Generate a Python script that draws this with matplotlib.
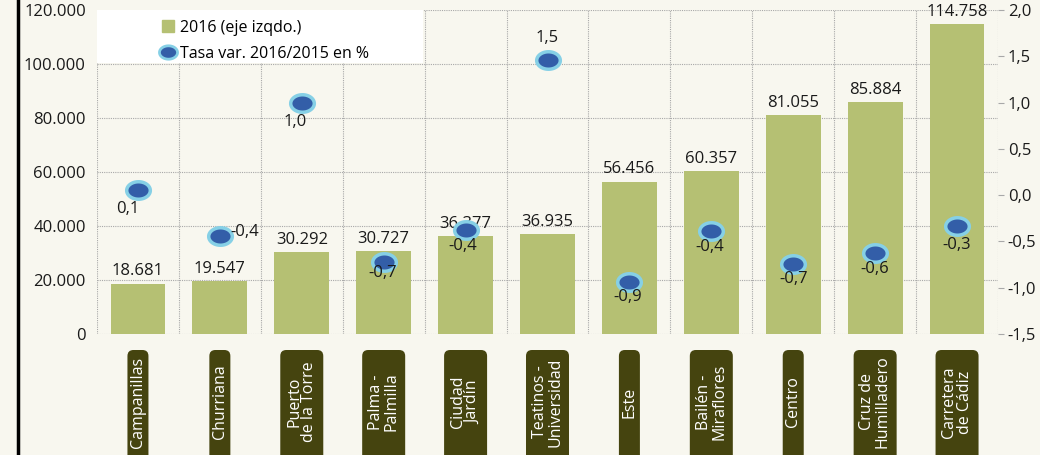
import matplotlib
matplotlib.use("Agg")
import matplotlib.pyplot as plt
from matplotlib.path import Path
from matplotlib.patches import FancyBboxPatch, Rectangle
from matplotlib.lines import Line2D
from matplotlib.ticker import FuncFormatter, FixedLocator
import matplotlib.transforms as mtransforms
import numpy as np

categories = ["Campanillas", "Churriana", "Puerto\nde la Torre", "Palma -\nPalmilla",
              "Ciudad\nJardín", "Teatinos -\nUniversidad", "Este", "Bailén -\nMiraflores",
              "Centro", "Cruz de\nHumilladero", "Carretera\nde Cádiz"]
poblacion_2016 = [18681, 19547, 30292, 30727, 36377, 36935, 56456, 60357, 81055, 85884, 114758]
tasa_var = [0.06, -0.44, 1.0, -0.72, -0.38, 1.46, -0.94, -0.39, -0.74, -0.62, -0.33]
left_ticks = [0, 20000, 40000, 60000, 80000, 100000, 120000]
right_ticks = [-1.5, -1.0, -0.5, 0.0, 0.5, 1.0, 1.5, 2.0]
legend_labels = ["2016 (eje izqdo.)", "Tasa var. 2016/2015 en %"]

# label offsets for the rate labels (points)
rate_offsets = [(-7, -14), (18, 3), (-5, -14), (-1, -8), (-2, -11), (0, 16),
                (-1, -11), (-1, -11), (0, -11), (0, -12), (0, -14)]

BG = "#f8f7ef"
BAR = "#b5c073"
DOT = "#335ea8"
DOT_EDGE = "#86d0e6"
BOX = "#45440f"
GRID = "#a8a8a8"
FONT = ["Open Sans", "DejaVu Sans"]

plt.rcParams['font.family'] = FONT

fig = plt.figure(figsize=(10.4, 4.55), dpi=100, facecolor=BG)
ax = fig.add_axes([97/1040, 121/455, 901/1040, 324/455])
ax.set_facecolor(BG)
ax2 = ax.twinx()

x = np.arange(len(categories))
ax.set_xlim(-0.5, len(categories) - 0.5)
ax.set_ylim(0, 120000)
ax2.set_ylim(-1.5, 2.0)

# grid
ax.set_yticks(left_ticks)
ax.xaxis.set_major_locator(FixedLocator(np.arange(-0.5, len(categories), 1.0)))
ax.set_xticklabels([])
ax.tick_params(axis='x', length=0)
ax.tick_params(axis='y', length=0, labelsize=12, colors="#1a1a1a", pad=8)
ax.grid(True, color=GRID, linestyle=(0, (1, 1)), linewidth=0.8)
ax.set_axisbelow(True)
for sp in ax.spines.values():
    sp.set_visible(False)
for sp in ax2.spines.values():
    sp.set_visible(False)
ax.yaxis.set_major_formatter(FuncFormatter(lambda v, p: f"{int(v):,}".replace(",", ".")))

ax2.set_yticks(right_ticks)
ax2.yaxis.set_major_formatter(FuncFormatter(lambda v, p: f"{v:.1f}".replace(".", ",")))
ax2.tick_params(axis='y', length=4, width=0.8, color=GRID, labelsize=12, labelcolor="#1a1a1a", pad=3)

# legend background
ax.add_patch(Rectangle((0, 1 - 53/324), 326/901, 53/324, transform=ax.transAxes,
                       facecolor="white", edgecolor="none", zorder=1.5))

bars = ax.bar(x, poblacion_2016, width=0.67, color=BAR, zorder=2, label=legend_labels[0])
for xi, v in zip(x, poblacion_2016):
    ax.annotate(f"{v:,}".replace(",", "."), (xi, v), xytext=(0, 3), textcoords="offset points",
                ha="center", va="bottom", fontsize=12, color="#1a1a1a", zorder=3)

# ellipse marker
t = np.linspace(0, 2*np.pi, 60)
ell = Path(np.column_stack([1.35*np.cos(t), np.sin(t)]), closed=True)

ax2.plot(x, tasa_var, linestyle="none", marker=ell, markersize=17,
         markerfacecolor=DOT, markeredgecolor=DOT_EDGE, markeredgewidth=2.5, zorder=5,
         label=legend_labels[1])
for xi, v, off in zip(x, tasa_var, rate_offsets):
    ax2.annotate(f"{v:.1f}".replace(".", ","), (xi, v), xytext=off, textcoords="offset points",
                 ha="center", va="center", fontsize=12, color="#1a1a1a", zorder=6)

# legend
h1 = Line2D([], [], linestyle="none", marker="s", markersize=8, color=BAR)
h2 = Line2D([], [], linestyle="none", marker=ell, markersize=13,
            markerfacecolor=DOT, markeredgecolor=DOT_EDGE, markeredgewidth=2)
leg = ax2.legend([h1, h2], legend_labels, loc="upper left",
                 bbox_to_anchor=((160-97)/901, (334-20)/324), frameon=False,
                 fontsize=11.5, borderpad=0, handlelength=1.0, handletextpad=0.25,
                 labelspacing=0.62, borderaxespad=0)
leg.set_zorder(10)

# category label boxes
trans = mtransforms.blended_transform_factory(ax.transData, fig.transFigure)
unit_px = 901 / 11
px_w = 1.0 / unit_px
for xi, cat in zip(x, categories):
    n = cat.count("\n") + 1
    wpx = 22*n - 1
    w = wpx * px_w
    y_top = (455 - 350) / 455
    y_bot = -30 / 455
    box = FancyBboxPatch((xi - w/2, y_bot), w, y_top - y_bot,
                         boxstyle=f"round,pad=0,rounding_size={6*px_w}",
                         transform=trans, facecolor=BOX, edgecolor="none", clip_on=False,
                         mutation_aspect=unit_px/455)
    fig.add_artist(box)
    fig.text(xi, (455 - 402) / 455, cat, transform=trans, rotation=90, ha="center", va="center",
             color="white", fontsize=11.5, linespacing=0.95, multialignment="center")

# thick left frame line
fig.add_artist(Line2D([18/1040, 18/1040], [0, 1], transform=fig.transFigure, color="black", linewidth=2.5))

fig.savefig("out.png", dpi=100, facecolor=BG)
